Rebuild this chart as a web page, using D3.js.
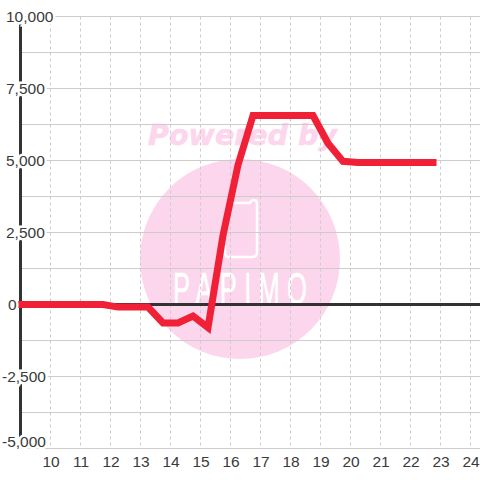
<!DOCTYPE html>
<html>
<head>
<meta charset="utf-8">
<script src="https://cdn.jsdelivr.net/npm/d3@7"></script>
<style>
html, body { margin: 0; padding: 0; background: #fff; }
text { font-family: "Liberation Sans", sans-serif; }
</style>
</head>
<body>
<div id="chart"></div>
<script>
var hours = [9, 9.75, 10.25, 10.75, 11.25, 11.75, 12.25, 12.75, 13.25, 13.75, 14.25, 14.75, 15.25, 15.75, 16.25, 16.75, 17.25, 17.75, 18.25, 18.75, 19.25, 19.75, 20.25, 20.75, 21.25, 21.75, 22.25, 22.75];
var profit = [0, 0, 0, 0, 0, 0, -90, -90, -90, -640, -640, -400, -800, 2400, 4840, 6560, 6560, 6560, 6560, 6560, 5600, 4970, 4930, 4930, 4930, 4930, 4930, 4930];
var xTicks = [10, 11, 12, 13, 14, 15, 16, 17, 18, 19, 20, 21, 22, 23, 24];
var yGrid = [-5000, -3750, -2500, -1250, 0, 1250, 2500, 3750, 5000, 6250, 7500, 8750, 10000];
var yLabels = [-5000, -2500, 0, 2500, 5000, 7500, 10000];

var red = "#f02036", pink = "#fcd6ec", gridcol = "#cccccc", dark = "#3a3a3a";
var width = 480, height = 480;

var x = d3.scaleLinear().domain([9, 25]).range([20.5, 500.5]);
var y = d3.scaleLinear().domain([-5000, 10000]).range([448.5, 16.5]);

var svg = d3.select("#chart").append("svg")
    .attr("width", width)
    .attr("height", height)
    .style("display", "block");

// watermark, sits under the grid
var wm = svg.append("g");

wm.append("text")
    .attr("x", 242.5)
    .attr("y", 145)
    .attr("text-anchor", "middle")
    .attr("fill", pink)
    .attr("stroke", pink)
    .attr("stroke-width", 0.6)
    .attr("font-size", 28.5)
    .attr("font-weight", "bold")
    .attr("font-style", "italic")
    .style("font-family", "'DejaVu Sans', sans-serif")
    .text("Powered by");

wm.append("circle")
    .attr("cx", 240)
    .attr("cy", 259)
    .attr("r", 100)
    .attr("fill", pink);

wm.append("path")
    .attr("d", "M233 203 H250 Q251 200 254 200 Q257 200 257 204 V252 Q257 257 252 257 H229 Q225 257 225 253 V245")
    .attr("fill", "none")
    .attr("stroke", "#fff")
    .attr("stroke-width", 2.5);

wm.append("text")
    .attr("transform", "translate(173,304) scale(0.58,1)")
    .attr("fill", "#fff")
    .attr("stroke", "#fff")
    .attr("stroke-width", 0.6)
    .attr("font-size", 44)
    .attr("textLength", 231)
    .attr("lengthAdjust", "spacing")
    .text("PAPIMO");

// grid
svg.append("g")
    .selectAll("line")
    .data(xTicks)
    .join("line")
    .attr("x1", function(d){ return x(d); })
    .attr("x2", function(d){ return x(d); })
    .attr("y1", y(10000))
    .attr("y2", y(-5000))
    .attr("stroke", gridcol)
    .attr("stroke-dasharray", "3,3");

svg.append("g")
    .selectAll("line")
    .data(yGrid)
    .join("line")
    .attr("x1", 20)
    .attr("x2", width)
    .attr("y1", function(d){ return y(d); })
    .attr("y2", function(d){ return y(d); })
    .attr("stroke", gridcol)
    .attr("stroke-width", 1.2);

// zero line and left axis
svg.append("line")
    .attr("x1", 20)
    .attr("x2", width)
    .attr("y1", y(0))
    .attr("y2", y(0))
    .attr("stroke", "#333333")
    .attr("stroke-width", 3);

svg.append("line")
    .attr("x1", x(9))
    .attr("x2", x(9))
    .attr("y1", y(10000))
    .attr("y2", y(-5000))
    .attr("stroke", "#333333")
    .attr("stroke-width", 3);

// series
var line = d3.line()
    .x(function(d, i){ return x(hours[i]); })
    .y(function(d){ return y(d); });

svg.append("path")
    .datum(profit)
    .attr("d", line)
    .attr("fill", "none")
    .attr("stroke", red)
    .attr("stroke-width", 7)
    .attr("stroke-linecap", "square")
    .attr("stroke-linejoin", "miter");

// labels go last, their white halo cuts the axis and the grid
var yAxis = d3.axisLeft(y)
    .tickValues(yLabels)
    .tickSize(0)
    .tickFormat(function(d){ return d3.format(",")(d).replace("\u2212", "-"); });

var gy = svg.append("g").call(yAxis);
gy.select(".domain").remove();
gy.selectAll("text")
    .attr("text-anchor", "start")
    .attr("x", function(d){ return d < 0 ? 2 : (d == 0 ? 8 : 6); })
    .attr("y", function(d){ return d == -5000 ? -7 : 0; })
    .attr("dy", "0.3em")
    .attr("font-size", 15.5)
    .attr("fill", dark)
    .style("font-family", "'Liberation Sans', sans-serif")
    .style("paint-order", "stroke")
    .attr("stroke", "#fff")
    .attr("stroke-width", 5);

var xAxis = d3.axisBottom(x)
    .tickValues(xTicks)
    .tickSize(0)
    .tickFormat(d3.format("d"));

var gx = svg.append("g")
    .attr("transform", "translate(0," + y(-5000) + ")")
    .call(xAxis);
gx.select(".domain").remove();
gx.selectAll("text")
    .attr("y", 7)
    .attr("dy", "0.71em")
    .attr("font-size", 15.5)
    .attr("fill", dark)
    .style("font-family", "'Liberation Sans', sans-serif");
</script>
</body>
</html>
